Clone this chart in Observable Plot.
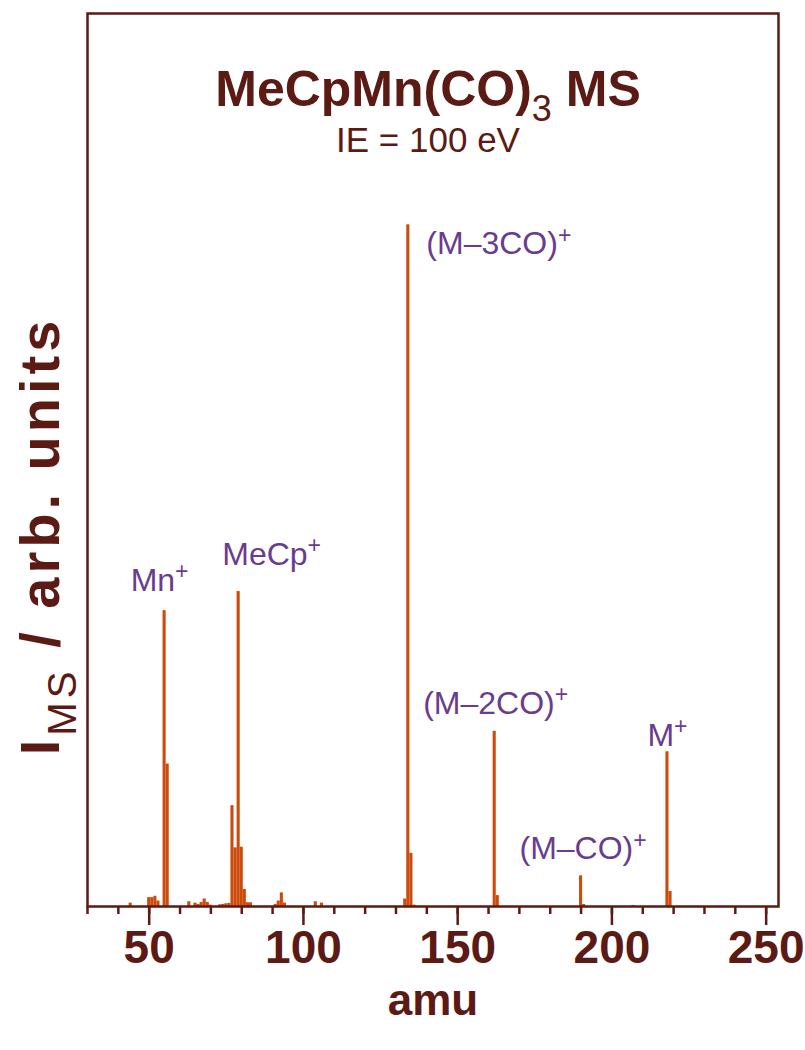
<!DOCTYPE html>
<html><head><meta charset="utf-8">
<script src="https://cdn.jsdelivr.net/npm/d3@7"></script>
<script src="https://cdn.jsdelivr.net/npm/@observablehq/plot@0.6"></script>
<style>
html,body{margin:0;padding:0;background:#fff;}
</style></head><body><div id="chart"></div>
<script>
// ---- data ----
const massAmu   = [44,50,51,52,53,55,56,63,65,66,67,68,69,70,73,74,75,76,77,78,79,80,81,82,83,91,92,93,94,104,106,133,134,135,136,162,163,190,191,207,218,219];
const intensity = [0.5,1.3,1.3,1.5,0.8,43.4,20.9,0.7,0.5,0.3,0.6,1.1,0.6,0.2,0.25,0.3,0.4,0.45,14.8,8.6,46.2,8.7,2.5,0.55,0.55,0.3,0.8,2.0,0.5,0.7,0.5,1.1,100,7.8,0.2,25.7,1.6,4.5,0.3,0.15,22.7,2.2];
const peakNames = ["Mn^+", "MeCp^+", "(M–3CO)^+", "(M–2CO)^+", "(M–CO)^+", "M^+"];
const peakMass  = [55, 79, 134, 162, 190, 218];
const majorTicks = [50, 100, 150, 200, 250];
const minorTicks = d3.range(30, 251, 10);
const titleText = "MeCpMn(CO)_3 MS";
const subtitleText = "IE = 100 eV";
const xLabel = "amu";
const yLabel = "I_{MS} / arb. units";

const spectrum = massAmu.map((m, i) => ({amu: m, intensity: intensity[i]}));
const labels = peakNames.map((n, i) => ({name: n, amu: peakMass[i], intensity: spectrum.find(d => d.amu === peakMass[i]).intensity}));

const BROWN = "#5c1a14";
const ORANGE = "#cc4b0c";
const PURPLE = "#6a3c8e";
const BOLD = "'Liberation Sans', Arial, sans-serif";
const REG = "'Liberation Sans', Arial, sans-serif";

// per-label offsets (styling, not data)
const labelStyle = {
  "Mn^+":       {dx: -5, dy: -30, textAnchor: "middle"},
  "MeCp^+":     {dx: 33, dy: -37, textAnchor: "middle"},
  "(M–3CO)^+":  {dx: 18, dy: 19,  textAnchor: "start"},
  "(M–2CO)^+":  {dx: 1,  dy: -28, textAnchor: "middle"},
  "(M–CO)^+":   {dx: 2,  dy: -27, textAnchor: "middle"},
  "M^+":        {dx: 0,  dy: -16, textAnchor: "middle"}
};

const plot = Plot.plot({
  width: 805,
  height: 1050,
  marginLeft: 87,
  marginRight: 27,
  marginTop: 13,
  marginBottom: 144,
  style: {color: BROWN, background: "#fff"},
  x: {domain: [30, 254], axis: null},
  y: {domain: [0, 131], axis: null},
  marks: [
    Plot.rect(spectrum, {x1: d => d.amu - 0.5, x2: d => d.amu + 0.5, y1: 0, y2: "intensity", fill: ORANGE}),
    Plot.axisX(minorTicks, {tickSize: 8, strokeWidth: 2.5, tickFormat: () => "", stroke: BROWN, label: null}),
    Plot.axisX(majorTicks, {tickSize: 19, strokeWidth: 2.5, tickPadding: 5, stroke: BROWN, fill: BROWN,
      fontSize: 46, fontWeight: "bold", fontFamily: BOLD, label: null}),
    Plot.frame({stroke: BROWN, strokeWidth: 2.5}),
    Plot.text([titleText], {frameAnchor: "top", lineAnchor: "middle", dx: -5, dy: 76, fontSize: 50, fontWeight: "bold", fontFamily: BOLD, fill: BROWN}),
    Plot.text([subtitleText], {frameAnchor: "top", lineAnchor: "middle", dx: -5, dy: 127, fontSize: 35, fontFamily: REG, fill: BROWN}),
    Plot.text([xLabel], {frameAnchor: "bottom", lineAnchor: "middle", dy: 94, fontSize: 44, fontWeight: "bold", fontFamily: BOLD, fill: BROWN}),
    Plot.text([yLabel], {frameAnchor: "left", lineAnchor: "middle", textAnchor: "middle", dx: -46, dy: 76, rotate: -90,
      fontSize: 56, fontWeight: "bold", fontFamily: BOLD, fill: BROWN}),
    ...labels.map(l => Plot.text([l], {x: "amu", y: "intensity", text: "name", ...labelStyle[l.name],
      fontSize: 32, fontFamily: REG, fill: PURPLE, lineAnchor: "middle"}))
  ]
});

document.getElementById("chart").appendChild(plot);

// widen the rotated y label a little, as in the reference
d3.select(plot).selectAll("text").filter(function() { return this.textContent === yLabel; })
  .attr("letter-spacing", 4);

// turn _x / _{..} / ^x / ^{..} markup into real sub/superscript tspans
function richify(root) {
  d3.select(root).selectAll("text").each(function() {
    const raw = this.textContent;
    if (!/[_^]/.test(raw)) return;
    const fs = parseFloat(getComputedStyle(this).fontSize) || 16;
    const segs = [];
    const re = /([_^])(?:\{([^}]*)\}|(.))/g;
    let last = 0, m;
    while ((m = re.exec(raw))) {
      if (m.index > last) segs.push({t: raw.slice(last, m.index), k: 0});
      segs.push({t: m[2] !== undefined ? m[2] : m[3], k: m[1] === "_" ? 1 : -1});
      last = re.lastIndex;
    }
    if (last < raw.length) segs.push({t: raw.slice(last), k: 0});
    const el = d3.select(this);
    el.text(null);
    let shift = 0;
    segs.forEach(s => {
      const target = s.k === 1 ? 0.3 * fs : s.k === -1 ? -0.36 * fs : 0;
      const ts = el.append("tspan").text(s.t).attr("dy", target - shift);
      if (s.k !== 0) ts.attr("font-size", (0.72 * fs).toFixed(1));
      if (s.k === 1) ts.attr("font-weight", "normal");
      shift = target;
    });
  });
}
richify(plot);
</script>
</body></html>
